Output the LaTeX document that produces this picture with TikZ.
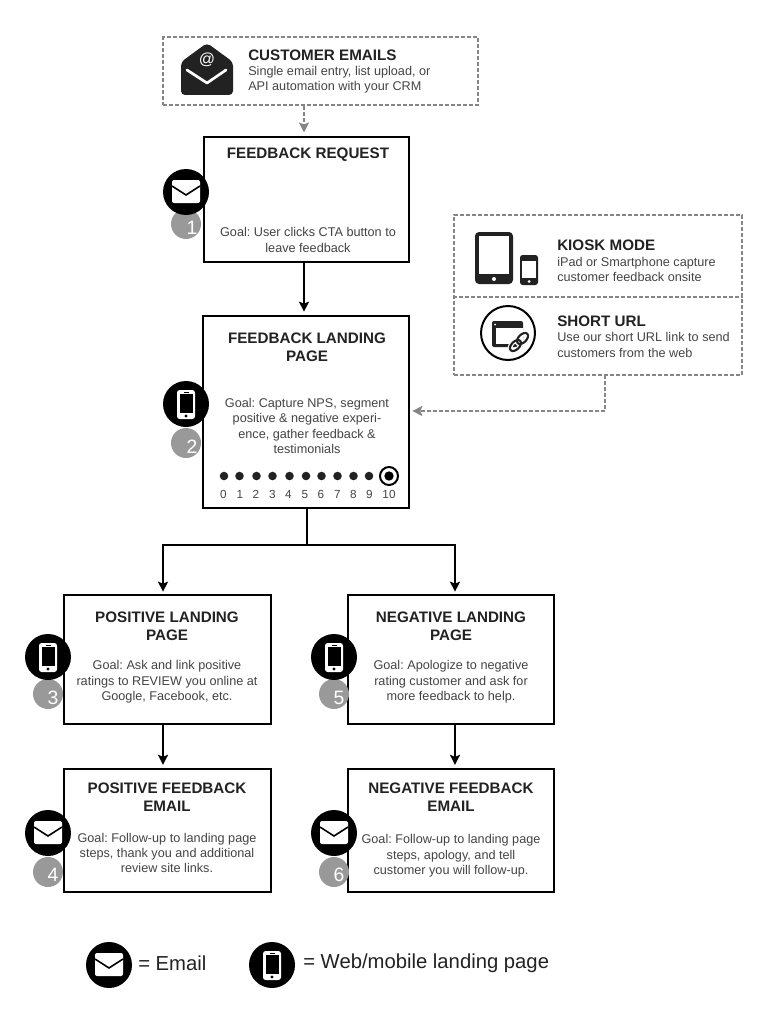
\documentclass[tikz,border=0pt]{standalone}
\usepackage{fontspec}
\setmainfont{Liberation Sans}
\usetikzlibrary{arrows.meta}
\definecolor{titleink}{HTML}{222222}
\definecolor{goalink}{HTML}{444444}
\definecolor{dashink}{HTML}{858585}
\definecolor{badgeink}{HTML}{999999}
\tikzset{x=0.75pt,y=-0.75pt, % one unit is one pixel of the reference, y goes down
stagebox/.style=
    { % Sets the properties for each black box
        draw=black,
        fill=white,
        line width=1.5pt,
        inner sep=0pt
    },
dashbox/.style=
    { % Sets the properties for each dashed box
        draw=dashink,
        line width=1.5pt,
        dash pattern=on 3pt off 1.5pt,
        inner sep=0pt
    },
    titletext/.style={font=\bfseries\fontsize{11.4}{13.5}\selectfont,text=titleink,align=center,inner sep=0pt},
    goaltext/.style={font=\frenchspacing\fontsize{9.5}{11.5}\selectfont,text=goalink,align=center,inner sep=0pt},
    sidetitle/.style={font=\bfseries\fontsize{11.4}{13.5}\selectfont,text=titleink,anchor=west,inner sep=0pt},
    sidetext/.style={font=\frenchspacing\fontsize{9.5}{11.5}\selectfont,text=goalink,align=left,anchor=west,inner sep=0pt},
    scaletext/.style={font=\fontsize{8.8}{11}\selectfont,text=goalink,inner sep=0pt,text height=6.3pt,text depth=0pt},
    scaledot/.style={circle,fill=titleink,minimum size=6.4pt,inner sep=0pt},
    blackdisc/.style={circle,fill=black,minimum size=34.5pt,inner sep=0pt},
    badge/.style={circle,fill=badgeink,minimum size=22.5pt,inner sep=0pt},
    badgedigit/.style={text=white,inner sep=0pt,font=\fontsize{14.5}{15}\selectfont},
    legendtext/.style={font=\fontsize{15.2}{17}\selectfont,text=titleink,anchor=west,inner sep=0pt},
    flowtip/.style={>={Stealth[length=7.5pt,width=7.5pt,inset=1.5pt]},shorten >=2.5pt},
    greyflow/.style={draw=dashink,line width=1.5pt,dash pattern=on 3pt off 1.5pt},
    every edge/.style={ % Sets the properties for each connector
        draw,
        ->,flowtip, % Bold arrowheads
        line width=1.5pt
    },
    mailglyph/.pic={
        \fill[white,rounded corners=1.5pt] (-14,-12) rectangle (14,11);
        \draw[black,line width=1.2pt] (-14,-6) -- (0,3) -- (14,-6);
    },
    phoneglyph/.pic={
        \fill[white,rounded corners=2pt] (-9,-14) rectangle (9,15);
        \fill[black] (-6.5,-10) rectangle (6.5,9);
        \fill[black] (-2.5,-12.4) rectangle (2.5,-11.6);
        \fill[black] (0,12) circle (1.6);
    }
}

\begin{document}
\begin{tikzpicture}
\useasboundingbox (0,0) rectangle (768,1024);
\node [dashbox,minimum width=236pt,minimum height=51pt]   (customers) at (320.5,71) {};
\node [stagebox,minimum width=154pt,minimum height=94pt]  (request) at (306.5,199.5) {};
\node [stagebox,minimum width=154.5pt,minimum height=144pt] (landing) at (306,412) {};
\node [stagebox,minimum width=155pt,minimum height=97pt]  (positive) at (167.5,659.5) {};
\node [stagebox,minimum width=155pt,minimum height=92pt]  (posmail) at (167.5,830.5) {};
\node [stagebox,minimum width=155pt,minimum height=97pt]  (negative) at (451,659.5) {};
\node [stagebox,minimum width=155pt,minimum height=92pt]  (negmail) at (451,830.5) {};
\node [dashbox,minimum width=216pt,minimum height=120pt] (sidebox) at (598,295) {};
%%%%%%%%%%%%%%%%%%%%%%%%%%%%%%%%%%
\coordinate (spine) at (304,0);
\coordinate (divider) at (0,297);
\coordinate (split) at (307,545);
\coordinate (posin) at (163,595);
\coordinate (negin) at (455,595);
\coordinate (bend) at (605,411);
\coordinate (kioskout) at (605,375);
\coordinate (landingin) at (409,411);

\draw
    (customers.south -| spine) edge[greyflow] (request.north -| spine)
    (request.south -| spine) edge (landing.north -| spine)
    (posin |- positive.south) edge (posin |- posmail.north)
    (negin |- negative.south) edge (negin |- negmail.north)
    (bend) edge[greyflow] (landingin)
    ;
\draw[line width=1.5pt,flowtip,->] (landing.south -| split) -- (split) -| (posin);
\draw[line width=1.5pt,flowtip,->] (split) -| (negin);
\draw[greyflow] (kioskout) -- (bend);
\draw[greyflow] (sidebox.west |- divider) -- (sidebox.east |- divider);
%%%%%%%%%%%%%%%%%%%%%%%%%%%%%%%%%%
\node [sidetitle] (customerstitle) at (248,55) {CUSTOMER EMAILS};
\node [sidetext]  (customersgoal) at (248,79.5) {Single email entry, list upload, or\\API automation with your CRM};
\node [titletext] (requesttitle) at (308,155) {FEEDBACK REQUEST};
\node [goaltext]  (requestgoal) at (308,240) {Goal: User clicks CTA button to\\leave feedback};
\node [titletext] (landingtitle) at (307,347) {FEEDBACK LANDING\\PAGE};
\node [goaltext]  (landinggoal) at (307,426) {Goal: Capture NPS, segment\\positive \& negative experi-\\ence, gather feedback \&\\testimonials};
\node [titletext] (positivetitle) at (167,626) {POSITIVE LANDING\\PAGE};
\node [goaltext]  (positivegoal) at (167,682) {Goal: Ask and link positive\\ratings to REVIEW you online at\\Google, Facebook, etc.};
\node [titletext] (posmailtitle) at (167,797) {POSITIVE FEEDBACK\\EMAIL};
\node [goaltext]  (posmailgoal) at (167,853) {Goal: Follow-up to landing page\\steps, thank you and additional\\review site links.};
\node [titletext] (negativetitle) at (451,626) {NEGATIVE LANDING\\PAGE};
\node [goaltext]  (negativegoal) at (451,682) {Goal: Apologize to negative\\rating customer and ask for\\more feedback to help.};
\node [titletext] (negmailtitle) at (451,797) {NEGATIVE FEEDBACK\\EMAIL};
\node [goaltext]  (negmailgoal) at (451,856) {Goal: Follow-up to landing page\\steps, apology, and tell\\customer you will follow-up.};
\node [sidetitle] (kiosktitle) at (557,245) {KIOSK MODE};
\node [sidetext]  (kioskgoal) at (557,269.5) {iPad or Smartphone capture\\customer feedback onsite};
\node [sidetitle] (shorttitle) at (557,321) {SHORT URL};
\node [sidetext]  (shortgoal) at (557,345) {Use our short URL link to send\\customers from the web};
%%%%%%%%%%%%%%%%%%%%%%%%%%%%%%%%%%
\node [scaledot] (dot0) at (224,476) {};
\node [scaledot] (dot1) at (239.5,476) {};
\node [scaledot] (dot2) at (256.5,476) {};
\node [scaledot] (dot3) at (272.5,476) {};
\node [scaledot] (dot4) at (289.5,476) {};
\node [scaledot] (dot5) at (306,476) {};
\node [scaledot] (dot6) at (321.5,476) {};
\node [scaledot] (dot7) at (337.5,476) {};
\node [scaledot] (dot8) at (353.5,476) {};
\node [scaledot] (dot9) at (369,476) {};
\node [circle,draw=black,line width=1.5pt,minimum size=13.5pt,inner sep=0pt] (ring10) at (389,476) {};
\node [scaledot,fill=black,minimum size=7pt] (dot10) at (389,476) {};
\node [scaletext] (num0) at (223.5,494) {0};
\node [scaletext] (num1) at (240,494) {1};
\node [scaletext] (num2) at (256,494) {2};
\node [scaletext] (num3) at (272.5,494) {3};
\node [scaletext] (num4) at (288.5,494) {4};
\node [scaletext] (num5) at (305,494) {5};
\node [scaletext] (num6) at (321,494) {6};
\node [scaletext] (num7) at (337.5,494) {7};
\node [scaletext] (num8) at (353.5,494) {8};
\node [scaletext] (num9) at (369.5,494) {9};
\node [scaletext] (num10) at (389,494) {10};
%%%%%%%%%%%%%%%%%%%%%%%%%%%%%%%%%%
\node [badge] (badge1) at (186,224) {};
\node [badge] (badge2) at (186,443) {};
\node [badge] (badge3) at (48,694) {};
\node [badge] (badge4) at (48,872) {};
\node [badge] (badge5) at (334,694) {};
\node [badge] (badge6) at (334,872) {};
\node [badgedigit] (digit1) at (192,228) {1};
\node [badgedigit] (digit2) at (192,447) {2};
\node [badgedigit] (digit3) at (53,698) {3};
\node [badgedigit] (digit4) at (53,875) {4};
\node [badgedigit] (digit5) at (339,698) {5};
\node [badgedigit] (digit6) at (339,875) {6};
\node [blackdisc] (icon1) at (186,192) {};
\node [blackdisc] (icon2) at (186,404) {};
\node [blackdisc] (icon3) at (48,657) {};
\node [blackdisc] (icon4) at (48,833) {};
\node [blackdisc] (icon5) at (334,657) {};
\node [blackdisc] (icon6) at (334,833) {};
\pic at (icon1) {mailglyph};
\pic at (icon2) {phoneglyph};
\pic at (icon3) {phoneglyph};
\pic at (icon4) {mailglyph};
\pic at (icon5) {phoneglyph};
\pic at (icon6) {mailglyph};
% legend
\node [blackdisc] (legendmail) at (109,965) {};
\node [blackdisc] (legendphone) at (272,965) {};
\pic at (legendmail) {mailglyph};
\pic at (legendphone) {phoneglyph};
\node [legendtext] (legendmailtext) at (138,963) {= Email};
\node [legendtext] (legendphonetext) at (303,963) {= Web/mobile landing page};
%%%%%%%%%%%%%%%%%%%%%%%%%%%%%%%%%%
% open envelope
\fill[titleink,rounded corners=3pt] (181,62) -- (207,43) -- (233,62) -- (233,95) -- (181,95) -- cycle;
\draw[white,line width=2pt,line cap=round,line join=round] (187,70) -- (207,83) -- (226,70);
\node [text=white,inner sep=0pt,font=\fontsize{12}{13}\selectfont] (atsign) at (207,60) {@};
% tablet and phone
\fill[titleink,rounded corners=3pt] (475,232) rectangle (513,284);
\fill[white] (479,236) rectangle (509,274);
\fill[white] (494,279) circle (2);
\fill[titleink,rounded corners=2pt] (520,255) rectangle (538,285);
\fill[white] (522,261) rectangle (536,278);
\fill[white] (529,281.5) circle (1.5);
% window and chain
\draw[black,line width=1.5pt,fill=white] (508,333) circle (27);
\fill[titleink,rounded corners=1.5pt] (492,321) rectangle (523,347);
\fill[white] (496,328) rectangle (523,344);
\fill[white] (495,324.5) circle (1);
\begin{scope}[shift={(519,342)},rotate=45]
\draw[white,line width=3.4pt] (-5,0) ellipse [x radius=5pt,y radius=3pt];
\draw[white,line width=3.4pt] (5,0) ellipse [x radius=5pt,y radius=3pt];
\draw[titleink,line width=1.6pt] (-5,0) ellipse [x radius=5pt,y radius=3pt];
\draw[titleink,line width=1.6pt] (5,0) ellipse [x radius=5pt,y radius=3pt];
\end{scope}
\end{tikzpicture}
\end{document}
